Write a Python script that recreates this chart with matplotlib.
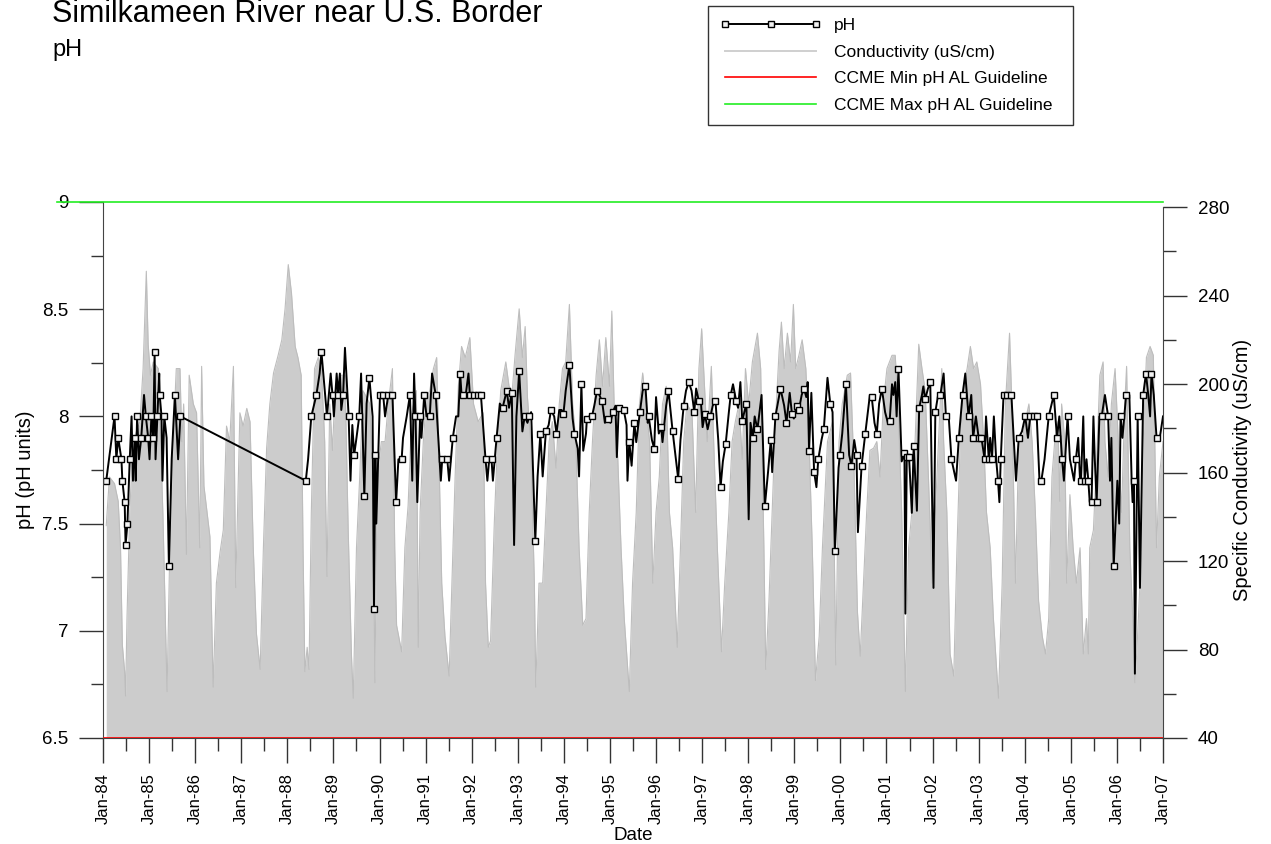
import matplotlib.pyplot as plt
from matplotlib.ticker import FixedLocator, MultipleLocator, FuncFormatter

plt.rcParams['font.family'] = ['Liberation Sans', 'DejaVu Sans']

# pH samples (decimal year), measured value, and whether the sample carries a symbol
ph_date = [
    1984.07, 1984.25, 1984.29, 1984.33, 1984.40, 1984.42, 1984.47, 1984.49, 1984.53, 1984.58,
    1984.62, 1984.65, 1984.69, 1984.71, 1984.74, 1984.78, 1984.83, 1984.89, 1984.93, 1984.98,
    1985.01, 1985.05, 1985.09, 1985.12, 1985.14, 1985.18, 1985.22, 1985.23, 1985.27, 1985.29,
    1985.33, 1985.38, 1985.43, 1985.49, 1985.56, 1985.63, 1985.68,
    1988.40, 1988.45, 1988.52, 1988.63, 1988.70, 1988.74, 1988.78, 1988.86, 1988.94, 1988.98,
    1989.01, 1989.07, 1989.10, 1989.14, 1989.17, 1989.21, 1989.25, 1989.33, 1989.37, 1989.41,
    1989.45, 1989.50, 1989.56, 1989.60, 1989.67, 1989.72, 1989.78, 1989.85, 1989.88, 1989.91,
    1989.93, 1990.01, 1990.08, 1990.12, 1990.19, 1990.28, 1990.36, 1990.41, 1990.48, 1990.51,
    1990.59, 1990.66, 1990.71, 1990.75, 1990.78, 1990.82, 1990.88, 1990.91, 1990.97, 1991.02,
    1991.09, 1991.14, 1991.22, 1991.33, 1991.36, 1991.42, 1991.47, 1991.51, 1991.59, 1991.66,
    1991.71, 1991.75, 1991.78, 1991.82, 1991.87, 1991.93, 1991.96, 1992.05, 1992.13, 1992.20,
    1992.30, 1992.34, 1992.38, 1992.43, 1992.46, 1992.54, 1992.61, 1992.67, 1992.76, 1992.81,
    1992.87, 1992.92, 1992.97, 1993.03, 1993.10, 1993.15, 1993.21, 1993.25, 1993.29, 1993.38,
    1993.43, 1993.49, 1993.54, 1993.61, 1993.67, 1993.72, 1993.79, 1993.84, 1993.90, 1993.95,
    1993.99, 1994.04, 1994.12, 1994.19, 1994.23, 1994.30, 1994.33, 1994.38, 1994.42, 1994.48,
    1994.50, 1994.55, 1994.61, 1994.66, 1994.72, 1994.77, 1994.83, 1994.89, 1994.95, 1995.01,
    1995.06, 1995.12, 1995.15, 1995.19, 1995.24, 1995.30, 1995.36, 1995.38, 1995.42, 1995.47,
    1995.53, 1995.57, 1995.65, 1995.71, 1995.77, 1995.82, 1995.84, 1995.91, 1995.96, 1996.00,
    1996.06, 1996.11, 1996.14, 1996.22, 1996.27,
    1996.36, 1996.48, 1996.53, 1996.60, 1996.65, 1996.71, 1996.77, 1996.83, 1996.87, 1996.93,
    1996.97, 1997.01, 1997.06, 1997.12, 1997.18, 1997.23, 1997.29, 1997.35, 1997.40, 1997.45,
    1997.51, 1997.58, 1997.62, 1997.67, 1997.74, 1997.78, 1997.83, 1997.87, 1997.96, 1998.01,
    1998.05, 1998.10, 1998.14, 1998.20, 1998.25, 1998.29, 1998.36, 1998.43, 1998.49, 1998.52,
    1998.59, 1998.70, 1998.78, 1998.83, 1998.90, 1998.95, 1998.99, 1999.05, 1999.10, 1999.16,
    1999.21, 1999.26, 1999.29, 1999.32, 1999.37, 1999.43, 1999.48, 1999.52, 1999.59, 1999.64,
    1999.72, 1999.78, 1999.83, 1999.88, 1999.96, 1999.99, 2000.04, 2000.12, 2000.19, 2000.24,
    2000.30, 2000.35, 2000.38, 2000.46, 2000.54,
    2000.64, 2000.68, 2000.74, 2000.79, 2000.84, 2000.90, 2000.97, 2001.03, 2001.07, 2001.12,
    2001.15, 2001.19, 2001.22, 2001.26, 2001.33, 2001.39, 2001.41, 2001.44, 2001.49, 2001.55,
    2001.59, 2001.66, 2001.71, 2001.77, 2001.80, 2001.84, 2001.90, 2001.95, 2002.02, 2002.06,
    2002.12, 2002.17, 2002.24, 2002.29, 2002.35, 2002.41, 2002.51, 2002.57, 2002.65, 2002.71,
    2002.78, 2002.84, 2002.88, 2002.94, 2003.00, 2003.06, 2003.13, 2003.16, 2003.22, 2003.25,
    2003.29, 2003.33, 2003.38, 2003.42, 2003.45, 2003.48, 2003.54, 2003.62, 2003.71, 2003.81,
    2003.87, 2003.94, 2004.01, 2004.07, 2004.12, 2004.20, 2004.26, 2004.32, 2004.36, 2004.43,
    2004.52, 2004.63,
    2004.70, 2004.75, 2004.81, 2004.85, 2004.93, 2004.98, 2005.07, 2005.11, 2005.16, 2005.20,
    2005.22, 2005.27, 2005.30, 2005.34, 2005.38, 2005.41, 2005.45, 2005.49, 2005.52, 2005.56,
    2005.62, 2005.67, 2005.74, 2005.81, 2005.85, 2005.88, 2005.93, 2006.01, 2006.05, 2006.08,
    2006.12, 2006.20, 2006.27, 2006.32, 2006.34, 2006.37, 2006.39, 2006.45, 2006.50, 2006.57,
    2006.63, 2006.68, 2006.72, 2006.75, 2006.80, 2006.86, 2006.93, 2007.00,
]
ph_value = [
    7.7, 8.0, 7.8, 7.9, 7.8, 7.7, 7.6, 7.4, 7.5, 7.8,
    8.0, 7.7, 7.9, 7.7, 8.0, 7.8, 7.9, 8.1, 8.0, 7.9,
    7.8, 8.0, 7.9, 8.3, 7.8, 8.0, 8.2, 8.1, 8.0, 7.7,
    8.0, 7.9, 7.3, 7.8, 8.1, 7.8, 8.0,
    7.7, 7.8, 8.0, 8.1, 8.2, 8.3, 8.2, 8.0, 8.2, 8.1,
    8.0, 8.2, 8.1, 8.2, 8.03, 8.1, 8.32, 8.0, 7.7, 7.96,
    7.82, 7.9, 8.0, 8.2, 7.63, 8.06, 8.18, 8.0, 7.1, 7.82,
    7.5, 8.1, 8.1, 8.0, 8.1, 8.1, 7.6, 7.8, 7.8, 7.9,
    8.0, 8.1, 7.7, 8.2, 8.0, 7.6, 8.0, 7.9, 8.1, 8.0,
    8.0, 8.2, 8.1, 7.7, 7.8, 7.8, 7.8, 7.7, 7.9, 8.0,
    8.0, 8.2, 8.1, 8.1, 8.1, 8.2, 8.1, 8.1, 8.1, 8.1,
    7.8, 7.7, 7.8, 7.8, 7.7, 7.9, 8.06, 8.04, 8.12, 8.04,
    8.11, 7.4, 8.0, 8.21, 7.93, 8.0, 7.97, 8.0, 8.02, 7.42,
    7.72, 7.92, 7.72, 7.93, 7.96, 8.03, 8.0, 7.92, 8.03, 8.03,
    8.01, 8.12, 8.24, 7.99, 7.92, 7.85, 7.72, 8.15, 7.84, 7.92,
    7.99, 8.0, 8.0, 8.05, 8.12, 8.1, 8.07, 7.97, 7.99, 7.97,
    8.02, 8.05, 7.81, 8.04, 8.03, 8.03, 7.96, 7.7, 7.88, 7.77,
    7.97, 7.88, 8.02, 8.12, 8.14, 7.97, 8.0, 7.89, 7.85, 8.09,
    7.92, 7.95, 7.88, 8.05, 8.12,
    7.93, 7.71, 7.89, 8.05, 8.12, 8.16, 8.12, 8.02, 8.13, 8.07,
    8.08, 7.95, 8.01, 7.94, 8.0, 8.05, 8.07, 7.89, 7.67, 7.79,
    7.87, 8.02, 8.1, 8.15, 8.07, 8.04, 8.16, 7.98, 8.06, 7.52,
    7.97, 7.9, 8.0, 7.94, 8.03, 8.1, 7.58, 7.74, 7.89, 7.74,
    8.0, 8.13, 8.05, 7.97, 8.11, 8.01, 7.99, 8.05, 8.03, 8.1,
    8.13, 8.09, 8.16, 7.84, 8.11, 7.74, 7.67, 7.8, 7.89, 7.94,
    8.18, 8.06, 8.02, 7.37, 7.76, 7.82, 7.92, 8.15, 7.82, 7.77,
    7.89, 7.82, 7.46, 7.77, 7.92,
    8.1, 8.09, 7.97, 7.92, 8.06, 8.13, 8.02, 7.97, 7.98, 8.15,
    8.1, 8.16, 8.0, 8.22, 7.79, 7.83, 7.08, 7.81, 7.81, 7.55,
    7.86, 7.56, 8.04, 8.1, 8.14, 8.08, 8.13, 8.16, 7.2, 8.02,
    8.1, 8.1, 8.2, 8.0, 8.0, 7.8, 7.7, 7.9, 8.1, 8.2,
    8.0, 8.1, 7.9, 8.0, 7.9, 7.9, 7.8, 8.0, 7.8, 7.9,
    7.8, 8.0, 7.8, 7.7, 7.6, 7.8, 8.1, 8.1, 8.1, 7.7,
    7.9, 7.93, 8.0, 7.9, 8.0, 8.0, 8.0, 7.7, 7.7, 7.8,
    8.0, 8.1,
    7.9, 8.0, 7.8, 7.7, 8.0, 7.8, 7.7, 7.8, 7.9, 7.7,
    7.7, 8.0, 7.7, 7.8, 7.7, 7.6, 7.6, 8.0, 7.8, 7.6,
    8.0, 8.0, 8.1, 8.0, 7.7, 7.9, 7.3, 7.7, 7.5, 8.0,
    7.9, 8.1, 8.1, 7.7, 7.6, 7.7, 6.8, 8.0, 7.2, 8.1,
    8.2, 8.1, 8.0, 8.2, 8.1, 7.9, 7.9, 8.0,
]
ph_marked = [
    1, 1, 1, 1, 1, 1, 1, 1, 1, 1,
    0, 0, 1, 0, 1, 0, 1, 0, 1, 1,
    0, 1, 1, 1, 0, 1, 0, 1, 0, 0,
    1, 0, 1, 0, 1, 0, 1,
    1, 0, 1, 1, 0, 1, 0, 1, 0, 1,
    0, 0, 1, 0, 0, 1, 0, 1, 0, 0,
    1, 0, 1, 0, 1, 0, 1, 0, 1, 1,
    0, 1, 1, 0, 1, 1, 1, 0, 1, 0,
    0, 1, 0, 0, 1, 0, 1, 0, 1, 0,
    1, 0, 1, 0, 1, 0, 1, 0, 1, 0,
    0, 1, 0, 1, 0, 0, 1, 1, 1, 1,
    1, 0, 0, 1, 0, 1, 0, 1, 1, 0,
    1, 0, 0, 1, 0, 1, 0, 1, 0, 1,
    0, 1, 0, 1, 0, 1, 0, 1, 0, 0,
    1, 0, 1, 0, 1, 0, 0, 1, 0, 0,
    1, 0, 1, 0, 1, 0, 1, 0, 1, 0,
    1, 0, 0, 1, 0, 1, 0, 0, 1, 0,
    1, 0, 1, 0, 1, 0, 1, 0, 1, 0,
    0, 1, 0, 0, 1,
    1, 1, 0, 1, 0, 1, 0, 1, 0, 1,
    0, 0, 1, 0, 1, 0, 1, 0, 1, 0,
    1, 0, 1, 0, 1, 0, 0, 1, 1, 0,
    0, 1, 0, 1, 0, 0, 1, 0, 1, 0,
    1, 1, 0, 1, 0, 1, 0, 1, 1, 0,
    1, 0, 0, 1, 0, 1, 0, 1, 0, 1,
    0, 1, 0, 1, 0, 1, 0, 1, 0, 1,
    0, 1, 0, 1, 1,
    0, 1, 0, 1, 0, 1, 0, 0, 1, 0,
    0, 0, 0, 1, 0, 1, 0, 1, 1, 0,
    1, 0, 1, 0, 0, 1, 0, 1, 0, 1,
    0, 1, 0, 1, 0, 1, 0, 1, 1, 0,
    1, 0, 1, 0, 1, 1, 1, 0, 1, 0,
    1, 0, 0, 1, 0, 1, 1, 1, 1, 0,
    1, 0, 1, 0, 1, 1, 1, 0, 1, 0,
    1, 1,
    1, 0, 1, 0, 1, 0, 0, 1, 0, 0,
    1, 0, 1, 0, 1, 0, 1, 0, 0, 1,
    0, 1, 0, 1, 0, 0, 1, 0, 0, 1,
    0, 1, 0, 0, 0, 1, 0, 1, 0, 1,
    1, 0, 0, 1, 0, 1, 0, 0,
]

# specific conductivity (uS/cm)
cond_date = [
    1984.07, 1984.14, 1984.25, 1984.33, 1984.38, 1984.42, 1984.47, 1984.49, 1984.52, 1984.58,
    1984.65, 1984.80, 1984.87, 1984.94, 1984.98, 1985.03, 1985.09, 1985.20, 1985.25, 1985.30,
    1985.34, 1985.39, 1985.45, 1985.52, 1985.59, 1985.67, 1985.71, 1985.75, 1985.81, 1985.87,
    1985.96, 1986.03, 1986.10, 1986.14, 1986.19, 1986.32, 1986.39, 1986.46, 1986.54, 1986.61,
    1986.68, 1986.75, 1986.83, 1986.88, 1986.97, 1987.04, 1987.12, 1987.19, 1987.26, 1987.33,
    1987.41, 1987.48, 1987.55, 1987.62, 1987.70, 1987.80, 1987.88, 1987.95, 1988.02, 1988.09,
    1988.17, 1988.23, 1988.30, 1988.34, 1988.38, 1988.43, 1988.47, 1988.52, 1988.59, 1988.67,
    1988.74, 1988.81, 1988.86, 1988.92, 1988.98, 1989.03, 1989.10, 1989.17, 1989.25, 1989.32,
    1989.39, 1989.43, 1989.50, 1989.57, 1989.64, 1989.72, 1989.79, 1989.86, 1989.90, 1989.95,
    1990.04, 1990.12, 1990.19, 1990.28, 1990.33, 1990.37, 1990.48, 1990.55, 1990.62, 1990.70,
    1990.80, 1990.84, 1990.88, 1990.95, 1991.02, 1991.09, 1991.17, 1991.24, 1991.28, 1991.35,
    1991.42, 1991.51, 1991.57, 1991.64, 1991.71, 1991.78, 1991.86, 1991.96, 1992.04, 1992.14,
    1992.25, 1992.30, 1992.36, 1992.41, 1992.49, 1992.56, 1992.63, 1992.74, 1992.81, 1992.88,
    1992.94, 1993.03, 1993.10, 1993.16, 1993.21, 1993.28, 1993.36, 1993.39, 1993.46, 1993.54,
    1993.61, 1993.68, 1993.75, 1993.83, 1993.90, 1993.97, 1994.04, 1994.12, 1994.19, 1994.26,
    1994.33, 1994.41, 1994.48, 1994.55, 1994.62, 1994.70, 1994.77, 1994.84, 1994.91, 1994.99,
    1995.04, 1995.09, 1995.17, 1995.24, 1995.31, 1995.42, 1995.49, 1995.57, 1995.64, 1995.71,
    1995.78, 1995.86, 1995.93, 1996.00, 1996.07, 1996.14, 1996.22, 1996.29, 1996.36, 1996.46,
    1996.53, 1996.60, 1996.67, 1996.78, 1996.86, 1996.93, 1996.99, 1997.04, 1997.11, 1997.20,
    1997.25, 1997.33, 1997.42, 1997.49, 1997.58, 1997.65, 1997.72, 1997.80, 1997.87, 1997.94,
    1998.01, 1998.09, 1998.20, 1998.27, 1998.34, 1998.38, 1998.45, 1998.52, 1998.59, 1998.67,
    1998.72, 1998.78, 1998.85, 1998.92, 1998.98, 1999.03, 1999.10, 1999.17, 1999.25, 1999.32,
    1999.39, 1999.46, 1999.54, 1999.61, 1999.72, 1999.83, 1999.90, 1999.97, 2000.04, 2000.15,
    2000.22, 2000.30, 2000.37, 2000.43, 2000.50, 2000.57, 2000.64, 2000.72, 2000.79, 2000.86,
    2000.93, 2001.01, 2001.12, 2001.19, 2001.26, 2001.33, 2001.41, 2001.48, 2001.55, 2001.62,
    2001.70, 2001.77, 2001.84, 2001.91, 2001.99, 2002.06, 2002.13, 2002.20, 2002.24, 2002.31,
    2002.38, 2002.46, 2002.53, 2002.60, 2002.67, 2002.75, 2002.82, 2002.89, 2002.96, 2003.04,
    2003.11, 2003.17, 2003.25, 2003.32, 2003.43, 2003.51, 2003.58, 2003.67, 2003.72, 2003.80,
    2003.87, 2003.94, 2004.01, 2004.09, 2004.16, 2004.23, 2004.30, 2004.38, 2004.45, 2004.52,
    2004.59, 2004.65, 2004.72, 2004.76, 2004.80, 2004.87, 2004.91, 2004.98, 2005.05, 2005.12,
    2005.20, 2005.27, 2005.34, 2005.38, 2005.41, 2005.49, 2005.56, 2005.63, 2005.70, 2005.74,
    2005.81, 2005.88, 2005.96, 2006.03, 2006.10, 2006.17, 2006.21, 2006.28, 2006.36, 2006.39,
    2006.43, 2006.50, 2006.57, 2006.64, 2006.72, 2006.79, 2006.86, 2006.92, 2007.00,
]
cond_value = [
    136, 158, 155, 147, 126, 82, 70, 59, 94, 142,
    174, 183, 207, 251, 218, 204, 210, 207, 174, 141,
    105, 61, 126, 174, 207, 207, 174, 191, 123, 204,
    191, 187, 126, 208, 154, 131, 63, 110, 124, 134,
    181, 174, 208, 108, 187, 181, 189, 183, 126, 87,
    71, 126, 171, 191, 205, 213, 220, 234, 254, 241,
    217, 212, 204, 126, 70, 81, 71, 142, 207, 212,
    207, 174, 113, 191, 170, 196, 200, 204, 204, 134,
    78, 58, 126, 158, 197, 194, 191, 150, 65, 158,
    174, 174, 191, 207, 126, 91, 79, 126, 145, 187,
    197, 81, 142, 174, 194, 197, 207, 212, 176, 110,
    86, 68, 110, 158, 199, 217, 212, 221, 191, 183,
    187, 110, 81, 84, 137, 174, 197, 210, 199, 197,
    213, 234, 212, 226, 194, 174, 110, 63, 110, 110,
    142, 174, 183, 162, 191, 207, 210, 236, 191, 174,
    126, 91, 94, 142, 174, 204, 220, 199, 221, 199,
    233, 191, 166, 126, 94, 61, 110, 142, 191, 205,
    191, 174, 110, 142, 158, 191, 199, 142, 126, 81,
    126, 174, 191, 187, 142, 207, 225, 204, 174, 208,
    174, 126, 79, 110, 142, 174, 183, 191, 166, 207,
    191, 210, 223, 207, 126, 71, 102, 142, 183, 215,
    228, 207, 223, 210, 236, 207, 213, 220, 207, 174,
    126, 66, 86, 126, 174, 183, 73, 174, 191, 204,
    205, 158, 97, 77, 110, 142, 170, 171, 174, 158,
    191, 207, 213, 213, 186, 142, 61, 126, 142, 174,
    218, 207, 197, 158, 110, 142, 174, 207, 174, 142,
    78, 68, 126, 174, 199, 207, 217, 207, 210, 200,
    174, 142, 126, 94, 58, 110, 191, 223, 191, 110,
    174, 174, 183, 191, 174, 142, 102, 86, 78, 94,
    158, 174, 183, 147, 191, 174, 110, 150, 126, 110,
    126, 78, 94, 78, 126, 134, 166, 204, 210, 174,
    158, 191, 207, 174, 142, 191, 208, 126, 86, 65,
    78, 110, 174, 212, 217, 213, 126, 158, 174,
]

ph_min_guideline = 6.5
ph_max_guideline = 9.0

years = list(range(1984, 2008))
year_labels = [f"Jan-{y % 100:02d}" for y in years]

W, H = 1271, 844
fig = plt.figure(figsize=(W / 100, H / 100), dpi=100)
ax = fig.add_axes([103 / W, 106 / H, 1060 / W, 536 / H])
ax2 = ax.twinx()
ax.set_zorder(ax2.get_zorder() + 1)
ax.patch.set_visible(False)

# conductivity as a filled grey area on the right axis
ax2.fill_between(cond_date, cond_value, 0, color='#cccccc', lw=0)
ax2.plot(cond_date, cond_value, color='#bdbdbd', lw=0.8)
cond_handle, = ax2.plot([], [], color='#cfcfcf', lw=1.4)

# pH with open square symbols
marks = [i for i, m in enumerate(ph_marked) if m]
ph_line, = ax.plot(ph_date, ph_value, color='black', lw=1.4,
                   marker='s', ms=4.4, mfc='#f2f2f2', mec='black', mew=1.0,
                   markevery=marks)

min_line = ax.axhline(ph_min_guideline, color='#ff0000', lw=1.2, zorder=5)
max_line = ax.axhline(ph_max_guideline, xmin=-0.043, color='#22ee22', lw=1.2,
                      zorder=5, clip_on=False)

ax.set_xlim(1984, 2007)
ax.set_ylim(6.5, 9)
ax2.set_ylim(40, 282.3)

tick_color = '#333333'
ax.xaxis.set_major_locator(FixedLocator(years))
ax.set_xticklabels(year_labels)
ax.xaxis.set_minor_locator(MultipleLocator(0.5))
ax.yaxis.set_major_locator(MultipleLocator(0.5))
ax.yaxis.set_minor_locator(MultipleLocator(0.25))
ax.yaxis.set_major_formatter(FuncFormatter(lambda v, p: f"{v:g}"))
ax2.yaxis.set_major_locator(FixedLocator(range(40, 281, 40)))
ax2.yaxis.set_minor_locator(FixedLocator(range(60, 280, 40)))

ax.tick_params(axis='x', which='major', length=18, width=1, color=tick_color,
               labelsize=12, pad=7, labelrotation=90)
ax.tick_params(axis='x', which='minor', length=9, width=1, color=tick_color)
ax.tick_params(axis='y', which='major', length=17, width=1, color=tick_color,
               labelsize=13.5, pad=8)
ax.tick_params(axis='y', which='minor', length=9, width=1, color=tick_color)
ax2.tick_params(axis='y', which='major', length=17, width=1, color=tick_color,
                labelsize=13.5, pad=8)
ax2.tick_params(axis='y', which='minor', length=9, width=1, color=tick_color)

for s in ['top', 'right']:
    ax.spines[s].set_visible(False)
for s in ['top', 'left', 'bottom']:
    ax2.spines[s].set_visible(False)
ax.spines['left'].set_color('#444444')
ax.spines['bottom'].set_color('#444444')
ax2.spines['right'].set_color('#444444')
ax2.spines['right'].set_bounds(40, 280)

ax.set_ylabel('pH (pH units)', fontsize=14.5)
ax.yaxis.set_label_coords(-0.064, 0.5)
ax2.set_ylabel('Specific Conductivity (uS/cm)', fontsize=14.5)
ax2.yaxis.set_label_coords(1.066, 0.5)
ax.set_xlabel('Date', fontsize=13.5)
ax.xaxis.set_label_coords(0.5, -0.166)

fig.text(52 / W, 1 - 22 / H, 'Similkameen River near U.S. Border', fontsize=22,
         va='baseline')
fig.text(52 / W, 1 - 56 / H, 'pH', fontsize=17, va='baseline')

fig.legend([ph_line, cond_handle, min_line, max_line],
           ['pH', 'Conductivity (uS/cm)', 'CCME Min pH AL Guideline',
            'CCME Max pH AL Guideline'],
           loc='upper left', bbox_to_anchor=(708 / W, 1 - 125 / H, 365 / W, 119 / H),
           mode='expand', borderaxespad=0, numpoints=3, fontsize=12.5,
           handlelength=5.8, handletextpad=0.75, labelspacing=0.65, borderpad=0.7,
           fancybox=False, framealpha=1, edgecolor='#333333')

fig.savefig('out.png', dpi=100)
